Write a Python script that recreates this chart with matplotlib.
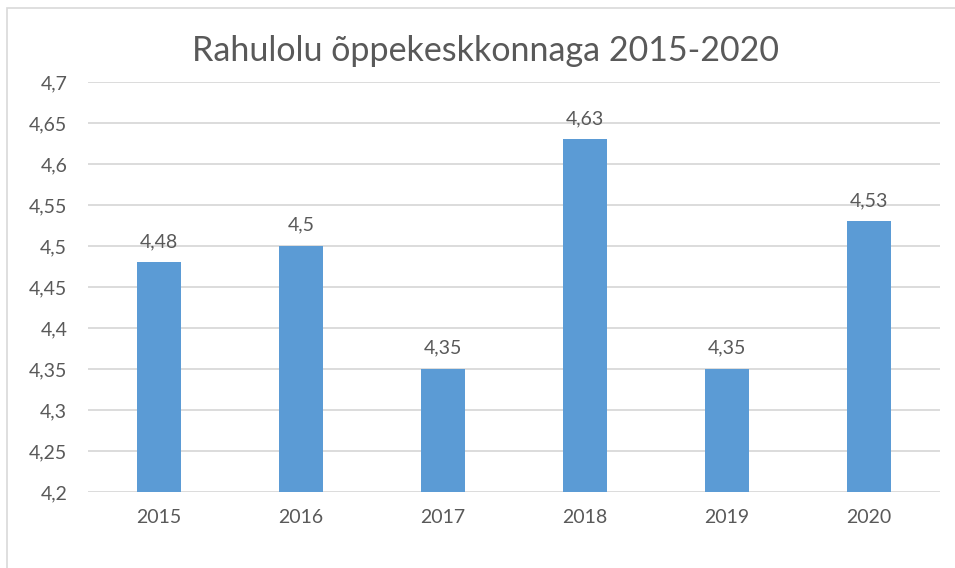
import numpy as np
import matplotlib.pyplot as plt
from matplotlib.patches import Rectangle

years = ["2015", "2016", "2017", "2018", "2019", "2020"]
scores = [4.48, 4.50, 4.35, 4.63, 4.35, 4.53]
yticks = [4.2, 4.25, 4.3, 4.35, 4.4, 4.45, 4.5, 4.55, 4.6, 4.65, 4.7]

def fmt(v):
    # Estonian style: comma as decimal separator, no trailing zeros
    return ("%g" % v).replace(".", ",")

plt.rcParams['font.family'] = ['Lato', 'DejaVu Sans']
text_grey = "#595959"
bar_blue = "#5B9BD5"

fig = plt.figure(figsize=(9.55, 5.68), dpi=100)
# light outer frame like the spreadsheet chart border
fig.patches.append(Rectangle((7 / 955, -0.01), 1.02, 1 - 8 / 568 + 0.01,
                             transform=fig.transFigure, fill=False,
                             edgecolor="#d9d9d9", linewidth=1.2))

ax = fig.add_axes([88 / 955, 1 - 492 / 568, (940 - 88) / 955, (492 - 82) / 568])
x = np.arange(len(years))
bars = ax.bar(x, scores, width=0.31, color=bar_blue, zorder=3)

ax.set_xlim(-0.5, len(years) - 0.5)
ax.set_ylim(4.2, 4.7)
ax.set_yticks(yticks)
ax.set_yticklabels([fmt(v) for v in yticks])
ax.set_xticks(x)
ax.set_xticklabels(years)
ax.tick_params(length=0, labelsize=14, colors=text_grey)
ax.tick_params(axis="y", pad=15)
ax.tick_params(axis="x", pad=12)

ax.yaxis.grid(True, color="#d9d9d9", linewidth=1.3, zorder=0)
for s in ax.spines.values():
    s.set_visible(False)

for xi, v in zip(x, scores):
    ax.annotate(fmt(v), (xi, v), xytext=(0, 9), textcoords="offset points",
                ha="center", va="bottom", fontsize=14, color=text_grey)

fig.text(0.508, 1 - 51 / 568, "Rahulolu õppekeskkonnaga 2015-2020",
         ha="center", va="center", fontsize=24.5, color=text_grey)

fig.savefig("out.png", dpi=100)
